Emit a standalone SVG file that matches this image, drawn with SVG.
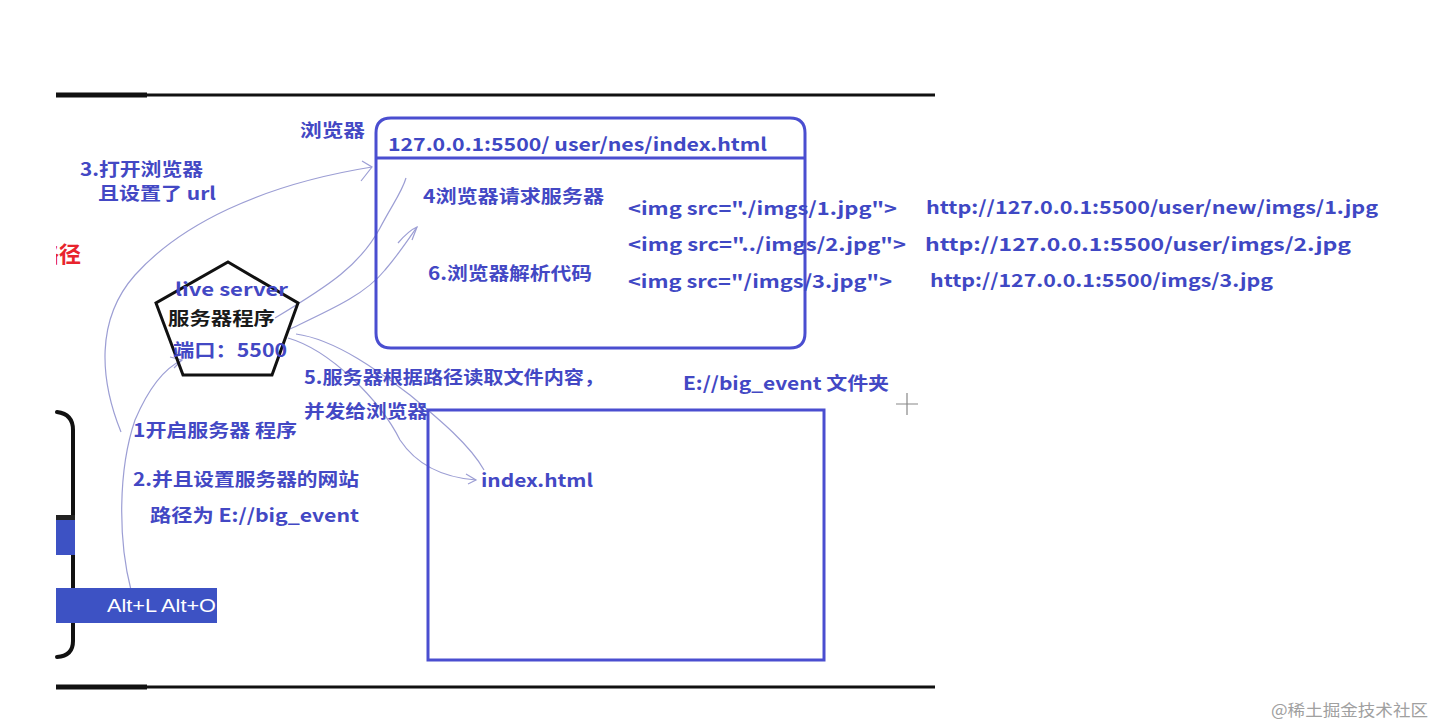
<svg xmlns="http://www.w3.org/2000/svg" width="1436" height="726" viewBox="0 0 1436 726">
<defs>
<style>
.t{font-family:"Noto Sans CJK SC","Noto Sans",sans-serif;font-weight:700;fill:#4348c4;font-size:18px}
.k{fill:#1a1a1a}
.m{font-family:"Noto Sans CJK SC","Noto Sans",sans-serif;font-weight:700;fill:#3f48c4;font-size:18px}
.box{fill:none;stroke:#4a4ed0;stroke-width:3}
.conn{fill:none;stroke:#9c9ed4;stroke-width:1.2}
.blk{fill:none;stroke:#111;stroke-linecap:round}
</style>
<clipPath id="lc"><rect x="56" y="0" width="200" height="726"/></clipPath>
</defs>
<rect width="1436" height="726" fill="#fff"/>

<g id="frame">
<line x1="56" y1="95" x2="935" y2="95" stroke="#111" stroke-width="3"/>
<line x1="56" y1="95" x2="147" y2="95" stroke="#111" stroke-width="5"/>
<line x1="56" y1="687" x2="935" y2="687" stroke="#111" stroke-width="3"/>
<line x1="56" y1="687" x2="147" y2="687" stroke="#111" stroke-width="5"/>
<path class="blk" stroke-width="4" d="M57,412 Q73,414 73,430 L73,641 Q73,656 57,657"/>
<rect x="56" y="517" width="19" height="38" fill="#3d52c4"/>
<rect x="56" y="515" width="19" height="5" fill="#222"/>
<text x="37" y="262" clip-path="url(#lc)" font-family="Noto Sans CJK SC,sans-serif" font-weight="700" font-size="22" fill="#e8242c">路径</text>
</g>

<g id="connectors">
<path class="conn" d="M121,432 C100,380 95,320 135,275 C180,225 260,185 372,167"/>
<path class="conn" d="M362,161 L372,167 L361,181"/>
<path class="conn" d="M131,590 C118,540 118,470 135,420 C150,385 165,368 182,360"/>
<path class="conn" d="M170,357 L182,360 L174,368"/>
<path class="conn" d="M275,318 C330,285 360,265 380,228 C392,205 402,192 406,178"/>
<path class="conn" d="M288,330 C330,310 365,295 385,270 C398,255 408,240 417,227"/>
<path class="conn" d="M398,243 C404,236 410,230 417,227 L412,240"/>
<path class="conn" d="M288,338 C330,350 380,400 400,440 C420,470 450,478 476,480"/>
<path class="conn" d="M296,334 C340,340 390,380 410,395 C440,420 470,445 484,470"/>
<path class="conn" d="M466,474 L476,480 L468,484"/>
</g>

<g id="browser">
<text class="t" x="300" y="137" textLength="65" lengthAdjust="spacingAndGlyphs">浏览器</text>
<path class="box" d="M391,118 L790,118 Q805,118 805,133 L805,333 Q805,348 790,348 L391,348 Q376,348 376,333 L376,133 Q376,118 391,118 Z"/>
<line class="box" x1="376" y1="158" x2="805" y2="158"/>
<text class="m" x="388" y="151" font-size="20" textLength="379" lengthAdjust="spacingAndGlyphs">127.0.0.1:5500/ user/nes/index.html</text>
<text class="t" x="423" y="203" textLength="181" lengthAdjust="spacingAndGlyphs">4浏览器请求服务器</text>
<text class="t" x="428" y="280" textLength="164" lengthAdjust="spacingAndGlyphs">6.浏览器解析代码</text>
<text class="m" x="628" y="215" font-size="17" textLength="269" lengthAdjust="spacingAndGlyphs">&lt;img src="./imgs/1.jpg"&gt;</text>
<text class="m" x="628" y="251" font-size="17" textLength="278" lengthAdjust="spacingAndGlyphs">&lt;img src="../imgs/2.jpg"&gt;</text>
<text class="m" x="628" y="288" font-size="17" textLength="264" lengthAdjust="spacingAndGlyphs">&lt;img src="/imgs/3.jpg"&gt;</text>
</g>

<g id="urls">
<text class="m" x="926" y="214" font-size="19" textLength="452" lengthAdjust="spacingAndGlyphs">http://127.0.0.1:5500/user/new/imgs/1.jpg</text>
<text class="m" x="925" y="251" font-size="19" textLength="426" lengthAdjust="spacingAndGlyphs">http://127.0.0.1:5500/user/imgs/2.jpg</text>
<text class="m" x="930" y="287" font-size="19" textLength="343" lengthAdjust="spacingAndGlyphs">http://127.0.0.1:5500/imgs/3.jpg</text>
</g>

<g id="step3">
<text class="t" x="80" y="176" font-size="17" textLength="123" lengthAdjust="spacingAndGlyphs">3.打开浏览器</text>
<text class="t" x="98" y="200" font-size="17" textLength="118" lengthAdjust="spacingAndGlyphs">且设置了 url</text>
</g>

<g id="server">
<polygon points="228,262 298,303 272,375 183,375 156,303" fill="none" stroke="#111" stroke-width="3"/>
<text class="t" x="175" y="296" textLength="113" lengthAdjust="spacingAndGlyphs">live server</text>
<text class="t k" x="168" y="325" textLength="107" lengthAdjust="spacingAndGlyphs">服务器程序</text>
<text class="t" x="173" y="357" textLength="114" lengthAdjust="spacingAndGlyphs">端口：5500</text>
</g>

<g id="step5">
<text class="t" x="304" y="384" textLength="300" lengthAdjust="spacingAndGlyphs">5.服务器根据路径读取文件内容，</text>
<text class="t" x="304" y="418" textLength="124" lengthAdjust="spacingAndGlyphs">并发给浏览器</text>
</g>

<g id="folder">
<text class="t" x="683" y="390" textLength="206" lengthAdjust="spacingAndGlyphs">E://big_event 文件夹</text>
<rect class="box" x="428" y="410" width="396" height="250"/>
<text class="t" x="481" y="487" textLength="112" lengthAdjust="spacingAndGlyphs">index.html</text>
<path d="M907,393 L907,415 M896,404 L918,404" stroke="#888" stroke-width="1.2"/>
</g>

<g id="steps12">
<text class="t" x="133" y="437" textLength="164" lengthAdjust="spacingAndGlyphs">1开启服务器 程序</text>
<text class="t" x="133" y="486" textLength="226" lengthAdjust="spacingAndGlyphs">2.并且设置服务器的网站</text>
<text class="t" x="150" y="522" textLength="209" lengthAdjust="spacingAndGlyphs">路径为 E://big_event</text>
</g>

<g id="shortcut">
<rect x="56" y="588" width="161" height="35" fill="#3d52c4"/>
<text x="107" y="612" font-family="Liberation Sans,Arial,sans-serif" font-size="18" fill="#fff" textLength="109" lengthAdjust="spacingAndGlyphs">Alt+L Alt+O</text>
</g>

<text x="1271" y="716" font-family="Noto Sans CJK SC,sans-serif" font-size="16" fill="#a0a0a0" textLength="157" lengthAdjust="spacingAndGlyphs">@稀土掘金技术社区</text>
</svg>
